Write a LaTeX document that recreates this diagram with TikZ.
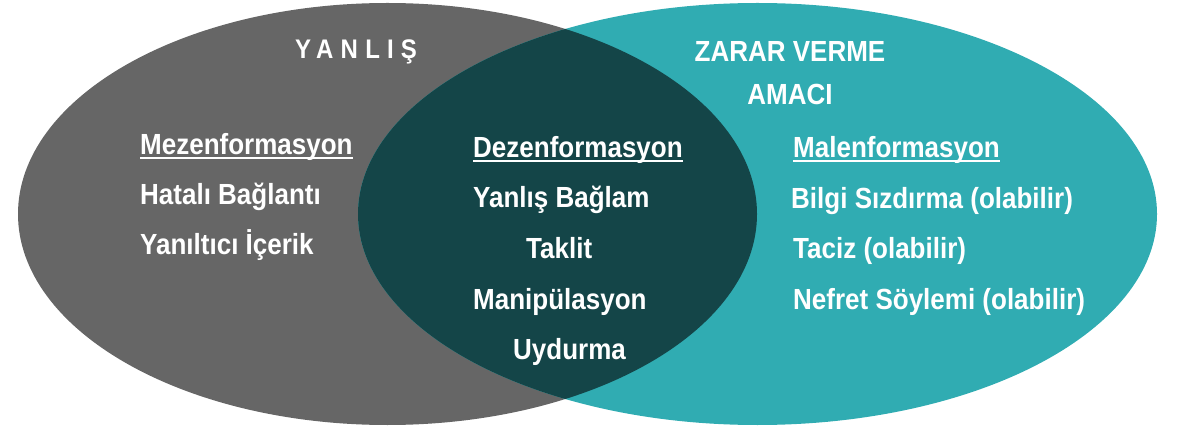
\documentclass[tikz,border=0pt]{standalone}
\usepackage{fontspec}
\usepackage{graphicx}
\setmainfont{Liberation Sans}
\definecolor{grayset}{RGB}{102,102,102}
\definecolor{tealset}{RGB}{48,172,178}
\definecolor{darkset}{RGB}{20,69,72}
\newcommand\ulword[1]{\setbox0\hbox{#1}\rlap{\rule[-3.4pt]{\wd0}{1.6pt}}\box0}
\newcommand\tall[1]{\scalebox{1}[1.12]{#1}}
\begin{document}
\begin{tikzpicture}[x=1pt,y=-1pt,
  lbl/.style={anchor=base west, text=white, inner sep=0pt,
    font=\fontsize{26}{30}\selectfont\bfseries},
  ttl/.style={anchor=base, text=white, inner sep=0pt,
    font=\fontsize{26}{30}\selectfont\bfseries}]
\useasboundingbox (0,0) rectangle (1182,427);
\fill[grayset] (387.5,214) ellipse [x radius=369.5, y radius=211];
\fill[tealset] (757.5,214) ellipse [x radius=399.5, y radius=211];
\begin{scope}
  \clip (387.5,214) ellipse [x radius=369.5, y radius=211];
  \fill[darkset] (757.5,214) ellipse [x radius=399.5, y radius=211];
\end{scope}
% titles
\node[lbl, font=\fontsize{24}{30}\selectfont\bfseries\addfontfeature{LetterSpace=30}] (yanlis) at (295,59) {\tall{YANLIŞ}};
\node[ttl] (zarar) at (790,62) {\tall{ZARAR VERME}};
\node[ttl] (amaci) at (790,105) {\tall{AMACI}};
% left
\node[lbl] (mez) at (140,155) {\tall{\ulword{Mezenformasyon}}};
\node[lbl] (hat) at (140,205) {\tall{Hatalı Bağlantı}};
\node[lbl] (yan) at (140,255) {\tall{Yanıltıcı İçerik}};
% middle
\node[lbl] (dez) at (473,158) {\tall{\ulword{Dezenformasyon}}};
\node[lbl] (yb) at (473,208) {\tall{Yanlış Bağlam}};
\node[lbl] (tak) at (526,259) {\tall{Taklit}};
\node[lbl] (man) at (473,309) {\tall{Manipülasyon}};
\node[lbl] (uyd) at (513,359) {\tall{Uydurma}};
% right
\node[lbl] (mal) at (793,158) {\tall{\ulword{Malenformasyon}}};
\node[lbl] (bil) at (791,209) {\tall{Bilgi Sızdırma (olabilir)}};
\node[lbl] (tac) at (793,259) {\tall{Taciz (olabilir)}};
\node[lbl] (nef) at (793,309) {\tall{Nefret Söylemi (olabilir)}};
\end{tikzpicture}
\end{document}
